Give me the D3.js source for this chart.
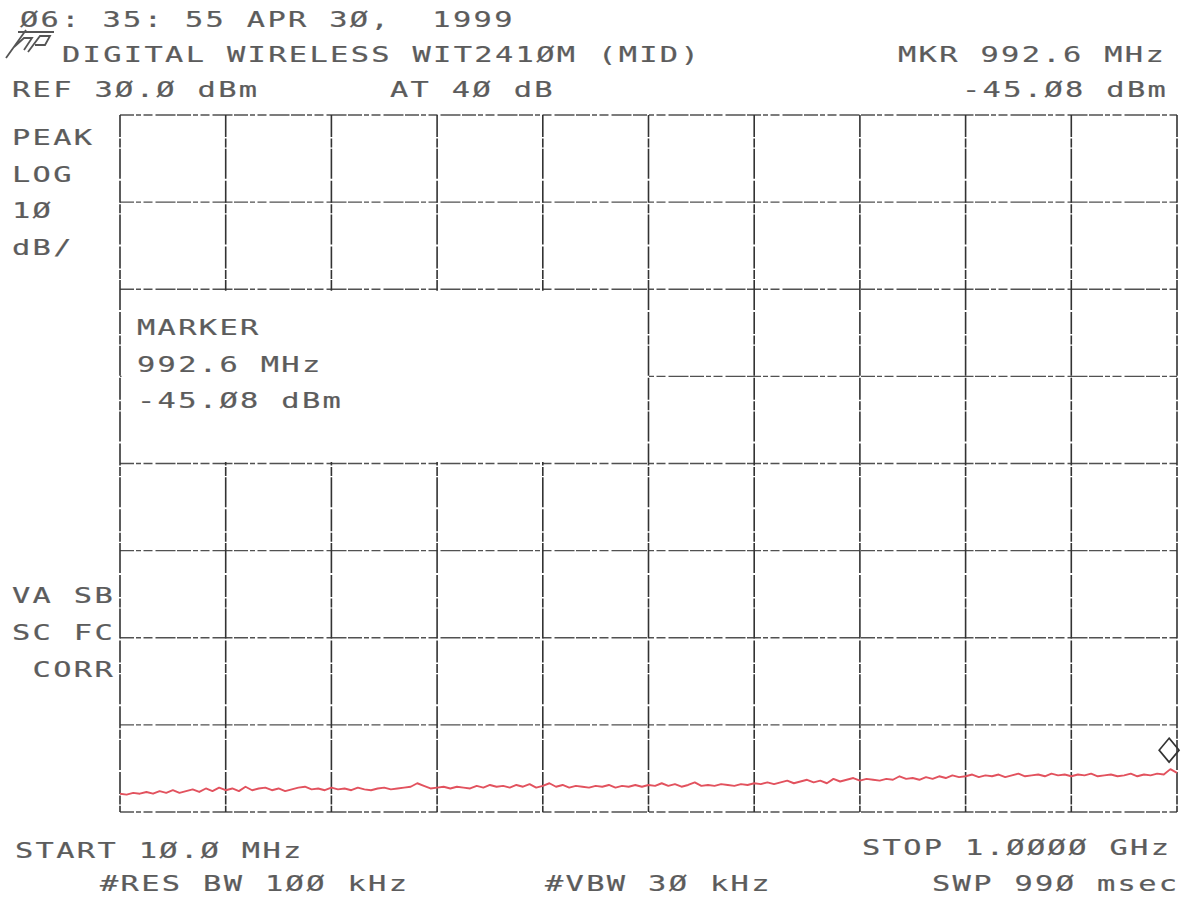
<!DOCTYPE html>
<html>
<head>
<meta charset="utf-8">
<script src="https://cdn.jsdelivr.net/npm/d3@7"></script>
<style>
  html, body { margin: 0; padding: 0; background: #fff; }
  svg { display: block; }
  text { font-family: "DejaVu Sans Mono", monospace; font-size: 22px; fill: #5c5c5c; stroke: #5c5c5c; stroke-width: 0.2px; letter-spacing: 1.7px; white-space: pre; }
</style>
</head>
<body>
<svg id="chart" width="1187" height="898"></svg>
<script>
// Sweep settings
const startMHz = 10;
const stopMHz = 1000;
const refLevel = 30;      // dBm, top graticule line
const dbPerDiv = 10;
const vDivisions = 8;
const hDivisions = 10;

// Marker readout
const markerMHz = 992.6;
const markerDbm = -45.08;

// Measured trace, dBm, evenly spaced across the sweep
const traceDbm = [
  -47.9,-48.0,-47.8,-47.9,-47.7,-47.9,-47.6,-47.8,-47.5,-47.8,
  -47.6,-47.4,-47.7,-47.3,-47.6,-47.2,-47.5,-47.3,-47.6,-47.1,
  -47.5,-47.3,-47.2,-47.5,-47.3,-47.6,-47.4,-47.2,-47.1,-47.4,
  -47.3,-47.5,-47.2,-47.4,-47.3,-47.5,-47.2,-47.4,-47.5,-47.3,
  -47.2,-47.4,-47.3,-47.2,-47.1,-46.7,-47.0,-47.3,-47.2,-47.1,
  -47.3,-47.1,-47.2,-47.3,-47.0,-47.2,-46.9,-47.1,-47.0,-47.2,
  -46.9,-47.1,-46.8,-47.2,-47.0,-46.7,-47.1,-46.9,-47.2,-47.0,
  -47.1,-47.2,-47.0,-47.1,-46.9,-47.2,-47.0,-47.1,-46.9,-47.1,
  -46.9,-47.0,-46.7,-47.0,-46.8,-47.1,-46.9,-46.6,-47.0,-46.9,
  -47.0,-46.8,-46.9,-47.0,-46.8,-46.9,-46.7,-46.8,-46.6,-46.8,
  -46.6,-46.4,-46.7,-46.5,-46.3,-46.6,-46.4,-46.7,-46.2,-46.5,
  -46.3,-46.1,-46.4,-46.2,-46.3,-46.4,-46.2,-46.3,-45.9,-46.2,
  -46.1,-46.3,-46.0,-46.2,-45.9,-46.1,-45.8,-46.0,-45.9,-45.7,
  -46.0,-45.8,-45.9,-45.7,-46.0,-45.8,-45.6,-45.9,-45.8,-45.7,
  -45.9,-45.6,-45.8,-45.7,-45.9,-45.7,-45.8,-45.6,-45.9,-45.8,
  -45.7,-45.9,-45.8,-45.6,-45.9,-45.7,-45.8,-45.6,-45.7,-45.08,-45.5
];

// Annotation lines
const headerLines = ["Ø6: 35: 55 APR 3Ø,  1999", "DIGITAL WIRELESS WIT241ØM (MID)"];
const refText = "REF 3Ø.Ø dBm";
const attenText = "AT 4Ø dB";
const mkrHeader = ["MKR 992.6 MHz", "-45.Ø8 dBm"];
const modeLabels = ["PEAK", "LOG", "1Ø", "dB/"];
const corrLabels = ["VA SB", "SC FC", " CORR"];
const markerBoxLines = ["MARKER", "992.6 MHz", "-45.Ø8 dBm"];
const footerTop = ["START 1Ø.Ø MHz", "STOP 1.ØØØØ GHz"];
const footerBottom = ["#RES BW 1ØØ kHz", "#VBW 3Ø kHz", "SWP 99Ø msec"];

const svg = d3.select("#chart");
const plotLeft = 120, plotRight = 1177, plotTop = 115, plotBottom = 812;

const x = d3.scaleLinear().domain([startMHz, stopMHz]).range([plotLeft, plotRight]);
const y = d3.scaleLinear().domain([refLevel - dbPerDiv * vDivisions, refLevel]).range([plotBottom, plotTop]);

const freqOf = i => startMHz + i * (stopMHz - startMHz) / (traceDbm.length - 1);

// Wide plotter-style lettering: monospace glyphs stretched horizontally
const stretch = 1.38;
const place = (tx, ty) => `translate(${tx},${ty}) scale(${stretch},1)`;

// Graticule
const vGrid = d3.range(hDivisions + 1).map(i => startMHz + i * (stopMHz - startMHz) / hDivisions);
const hGrid = d3.range(vDivisions + 1).map(i => refLevel - i * dbPerDiv);

const grid = svg.append("g").attr("stroke", "#333").attr("fill", "none");
grid.selectAll("line.v").data(vGrid).join("line")
  .attr("class", "v")
  .attr("x1", d => x(d)).attr("x2", d => x(d))
  .attr("y1", plotTop).attr("y2", plotBottom)
  .attr("stroke-width", 1.6)
  .attr("stroke-dasharray", "22,1.5,9,1.2,30,2");
grid.selectAll("line.h").data(hGrid).join("line")
  .attr("class", "h")
  .attr("x1", plotLeft).attr("x2", plotRight)
  .attr("y1", d => y(d)).attr("y2", d => y(d))
  .attr("stroke-width", 1.4)
  .attr("stroke-opacity", 0.85)
  .attr("stroke-dasharray", "14,2,5,2.5,9,3,20,1.5");

// Marker readout panel over the graticule
const boxX0 = x(vGrid[0]), boxX1 = x(vGrid[5]);
const boxY0 = y(hGrid[2]), boxY1 = y(hGrid[4]);
svg.append("rect")
  .attr("x", boxX0 + 1.5).attr("y", boxY0 + 1.5)
  .attr("width", boxX1 - boxX0 - 3).attr("height", boxY1 - boxY0 - 3)
  .attr("fill", "#fff");

svg.append("g").selectAll("text").data(markerBoxLines).join("text")
  .attr("transform", (d, i) => place(137, 335 + i * 36.5))
  .text(d => d);

// Trace
const line = d3.line()
  .x((d, i) => x(freqOf(i)))
  .y(d => y(d));
svg.append("path")
  .datum(traceDbm)
  .attr("d", line)
  .attr("fill", "none")
  .attr("stroke", "#e2525e")
  .attr("stroke-width", 1.9)
  .attr("stroke-linejoin", "round");

// Marker symbol
const mx = x(markerMHz), my = y(markerDbm) - 19;
svg.append("path")
  .attr("d", `M${mx},${my - 12} L${mx + 10},${my} L${mx},${my + 12} L${mx - 10},${my} Z`)
  .attr("fill", "none")
  .attr("stroke", "#333")
  .attr("stroke-width", 1.6);

// Header
const txt = svg.append("g");
const put = (s, tx, ty) => txt.append("text").attr("transform", place(tx, ty)).text(s);
put(headerLines[0], 20, 27);
put(headerLines[1], 62, 62);
put(refText, 12, 97);
put(attenText, 390, 97);
put(mkrHeader[0], 898, 62);
put(mkrHeader[1], 962, 97);

// Instrument logo
svg.append("path")
  .attr("d", "M6,58 L26,30 M18,32 L54,32 M14,47 L24,38 L32,38 L24,50 M28,52 L40,36 L50,36 L45,45 L35,45")
  .attr("fill", "none").attr("stroke", "#555").attr("stroke-width", 1.8);

// Left-hand mode labels
txt.append("g").selectAll("text").data(modeLabels).join("text")
  .attr("transform", (d, i) => place(12, 145 + i * 36.5)).text(d => d);
txt.append("g").selectAll("text").data(corrLabels).join("text")
  .attr("transform", (d, i) => place(12, 603 + i * 37)).text(d => d);

// Footer
put(footerTop[0], 15, 858);
put(footerTop[1], 862, 855);
put(footerBottom[0], 100, 891);
put(footerBottom[1], 545, 891);
put(footerBottom[2], 932, 891);
</script>
</body>
</html>
